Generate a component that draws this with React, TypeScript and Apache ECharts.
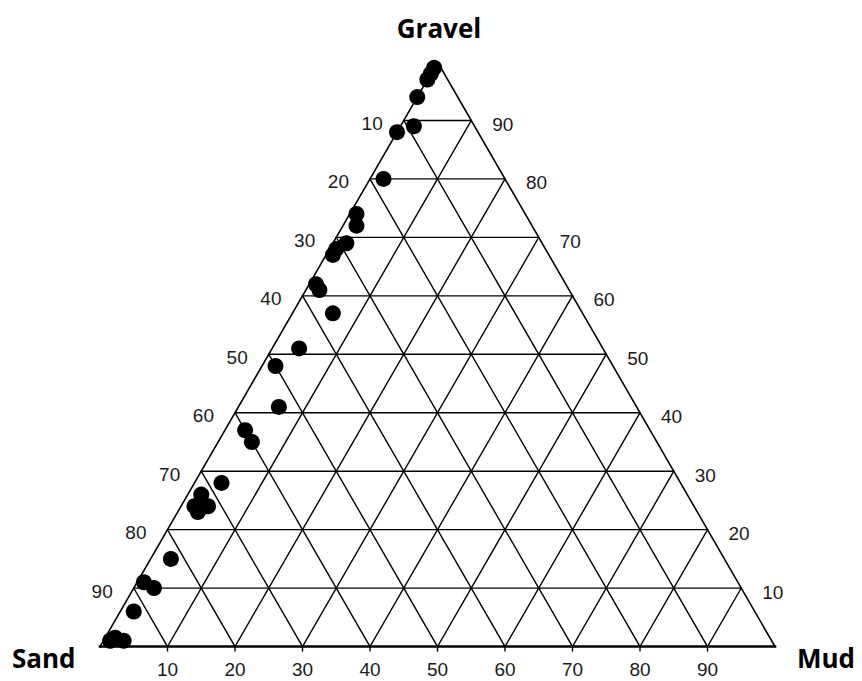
import React, { useEffect, useRef } from "react";
import * as echarts from "echarts";

const S = Math.sqrt(3) / 2;

// Axis tick values (percent)
const tickValues = [10, 20, 30, 40, 50, 60, 70, 80, 90];

// Vertex names
const topName = "Gravel";
const leftName = "Sand";
const rightName = "Mud";

// Sample compositions: gravel % and mud % (sand = remainder)
const gravelPct = [99, 98, 97, 94, 88, 89, 80, 74, 72, 68, 69, 67, 62, 61, 57, 51, 48, 41, 37, 35, 28, 26, 24, 24, 23, 15, 11, 10, 6, 1.5, 1, 1];
const mudPct = [0, 0, 0, 0, 0, 2, 2, 1, 2, 1, 2, 1, 1, 2, 6, 4, 2, 6, 3, 5, 4, 2, 2, 4, 3, 3, 1, 3, 2, 1.5, 3, 1];

function toXY(g: number, m: number): [number, number] {
  return [m + g / 2, g * S];
}

function buildSegments() {
  const segs: number[][] = [];
  for (const k of tickValues) {
    const a = toXY(k, 0);
    const b = toXY(k, 100 - k);
    segs.push([a[0], a[1], b[0], b[1], 1.4]);
    const c = toXY(0, k);
    const d = toXY(100 - k, k);
    segs.push([c[0], c[1], d[0], d[1], 1.4]);
    const e = toXY(0, 100 - k);
    const f = toXY(100 - k, 0);
    segs.push([e[0], e[1], f[0], f[1], 1.4]);
  }
  const A = toXY(100, 0);
  const B = toXY(0, 0);
  const C = toXY(0, 100);
  segs.push([B[0], B[1], A[0], A[1], 1.6]);
  segs.push([A[0], A[1], C[0], C[1], 1.6]);
  segs.push([B[0], B[1], C[0], C[1], 2.6]);
  return segs;
}

const labelFont = { fontSize: 19, fontFamily: "'Liberation Sans', Arial, sans-serif", fill: "#1a1a1a" };

export default function App() {
  const ref = useRef<HTMLDivElement>(null);
  useEffect(() => {
    if (!ref.current) return;
    const chart = echarts.init(ref.current, undefined, { renderer: "svg" });
    const segs = buildSegments();
    const points = gravelPct.map((g, i) => toXY(g, mudPct[i]));

    const labelData: any[] = [];
    tickValues.forEach((k) => {
      const pb = toXY(0, k);
      labelData.push({ value: [pb[0], pb[1], 0], name: String(k) });
      const pl = toXY(100 - k, 0);
      labelData.push({ value: [pl[0], pl[1], 1], name: String(k) });
      const pr = toXY(k, 100 - k);
      labelData.push({ value: [pr[0], pr[1], 2], name: String(k) });
    });

    const option: any = {
      animation: false,
      backgroundColor: "#ffffff",
      grid: { left: 100, top: 62, width: 675, height: 675 * S, containLabel: false },
      xAxis: { type: "value", min: 0, max: 100, show: false },
      yAxis: { type: "value", min: 0, max: 100 * S, show: false },
      series: [
        {
          type: "custom",
          coordinateSystem: "cartesian2d",
          clip: false,
          silent: true,
          z: 1,
          data: segs,
          renderItem: (params: any, api: any) => {
            const p1 = api.coord([api.value(0), api.value(1)]);
            const p2 = api.coord([api.value(2), api.value(3)]);
            return {
              type: "line",
              shape: { x1: p1[0], y1: p1[1], x2: p2[0], y2: p2[1] },
              style: { stroke: "#000", lineWidth: api.value(4), lineCap: "square" },
            };
          },
        },
        {
          type: "custom",
          coordinateSystem: "cartesian2d",
          clip: false,
          silent: true,
          z: 1,
          data: tickValues.map((k) => [k, 0]),
          renderItem: (params: any, api: any) => {
            const p = api.coord([api.value(0), api.value(1)]);
            return {
              type: "line",
              shape: { x1: p[0], y1: p[1], x2: p[0], y2: p[1] + 5 },
              style: { stroke: "#000", lineWidth: 1.4 },
            };
          },
        },
        {
          type: "custom",
          coordinateSystem: "cartesian2d",
          clip: false,
          silent: true,
          z: 2,
          data: labelData,
          renderItem: (params: any, api: any) => {
            const p = api.coord([api.value(0), api.value(1)]);
            const kind = api.value(2);
            const text = labelData[params.dataIndex].name;
            let x = p[0], y = p[1], align = "center";
            if (kind === 0) { y = p[1] + 23; }
            else if (kind === 1) { x = p[0] - 21; y = p[1] + 3; align = "right"; }
            else { x = p[0] + 21; y = p[1] + 4; align = "left"; }
            return {
              type: "text",
              x, y,
              style: { text, ...labelFont, align, verticalAlign: "middle" },
            };
          },
        },
        {
          type: "scatter",
          symbol: "circle",
          symbolSize: 16,
          z: 3,
          itemStyle: { color: "#000", opacity: 1 },
          data: points,
        },
      ],
      graphic: [
        { type: "text", x: 439, y: 28, style: { text: topName, fontSize: 26, fontWeight: "bold", fontFamily: "'Open Sans', sans-serif", fill: "#000", align: "center", verticalAlign: "middle" } },
        { type: "text", x: 12, y: 658, style: { text: leftName, fontSize: 26, fontWeight: "bold", fontFamily: "'Open Sans', sans-serif", fill: "#000", align: "left", verticalAlign: "middle" } },
        { type: "text", x: 797, y: 658, style: { text: rightName, fontSize: 26, fontWeight: "bold", fontFamily: "'Open Sans', sans-serif", fill: "#000", align: "left", verticalAlign: "middle" } },
      ],
    };
    chart.setOption(option);
    return () => chart.dispose();
  }, []);
  return <div ref={ref} style={{ position: "absolute", left: 0, top: 0, width: 862, height: 681, background: "#fff" }} />;
}
